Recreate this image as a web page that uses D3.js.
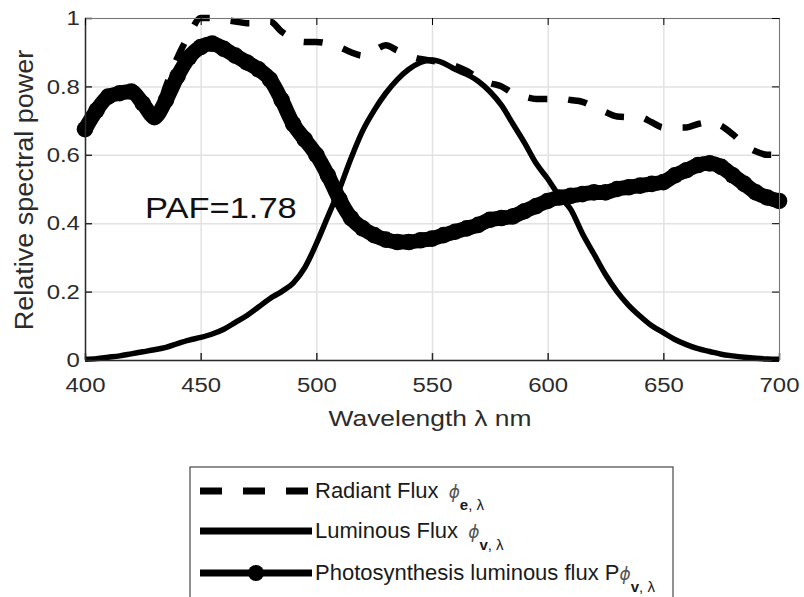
<!DOCTYPE html>
<html>
<head>
<meta charset="utf-8">
<script src="https://cdn.jsdelivr.net/npm/d3@7/dist/d3.min.js"></script>
<style>
body { margin: 0; background: #fff; }
text { font-family: "Liberation Sans", Arial, sans-serif; }
</style>
</head>
<body>
<div id="chart"></div>
<script>
// Spectral power chart: radiant, luminous and photosynthesis luminous flux

// Part I.

var wavelengths = [400, 405, 410, 415, 420, 425, 430, 435, 440, 445,
    450, 455, 460, 465, 470, 475, 480, 485, 490, 495,
    500, 505, 510, 515, 520, 525, 530, 535, 540, 545,
    550, 555, 560, 565, 570, 575, 580, 585, 590, 595,
    600, 605, 610, 615, 620, 625, 630, 635, 640, 645,
    650, 655, 660, 665, 670, 675, 680, 685, 690, 695, 700];

var radiantFlux = [0.675, 0.73, 0.77, 0.78, 0.785, 0.75, 0.71, 0.80, 0.885, 0.95,
    1.0, 1.0, 0.995, 0.99, 0.985, 0.985, 0.99, 0.96, 0.94, 0.93,
    0.93, 0.925, 0.915, 0.90, 0.89, 0.905, 0.92, 0.905, 0.89, 0.88,
    0.875, 0.87, 0.86, 0.845, 0.825, 0.81, 0.80, 0.78, 0.77, 0.763,
    0.763, 0.765, 0.76, 0.755, 0.74, 0.725, 0.712, 0.71, 0.71, 0.695,
    0.68, 0.68, 0.68, 0.69, 0.695, 0.685, 0.66, 0.63, 0.61, 0.60, 0.60];

var luminousFlux = [0.002, 0.004, 0.008, 0.012, 0.018, 0.024, 0.03, 0.037, 0.048, 0.058,
    0.066, 0.076, 0.09, 0.11, 0.13, 0.155, 0.18, 0.2, 0.225, 0.27,
    0.34, 0.42, 0.5, 0.59, 0.67, 0.73, 0.78, 0.82, 0.85, 0.87,
    0.877, 0.868, 0.85, 0.835, 0.815, 0.785, 0.745, 0.69, 0.635, 0.575,
    0.53, 0.48, 0.44, 0.37, 0.31, 0.25, 0.2, 0.16, 0.128, 0.1,
    0.08, 0.06, 0.045, 0.033, 0.025, 0.017, 0.012, 0.008, 0.005, 0.003, 0.002];

var photoFlux = [0.675, 0.73, 0.77, 0.78, 0.785, 0.75, 0.71, 0.76, 0.83, 0.885,
    0.915, 0.925, 0.91, 0.89, 0.87, 0.85, 0.82, 0.76, 0.69, 0.645,
    0.60, 0.54, 0.47, 0.415, 0.385, 0.365, 0.352, 0.345, 0.345, 0.35,
    0.355, 0.365, 0.375, 0.385, 0.395, 0.41, 0.415, 0.42, 0.435, 0.45,
    0.465, 0.475, 0.48, 0.485, 0.49, 0.49, 0.50, 0.505, 0.51, 0.515,
    0.52, 0.54, 0.555, 0.57, 0.575, 0.565, 0.54, 0.515, 0.49, 0.475, 0.465];

var xTicks = [400, 450, 500, 550, 600, 650, 700];
var yTicks = [0, 0.2, 0.4, 0.6, 0.8, 1];

var legendLabels = [
    {text: "Radiant Flux ", sub: "e", style: "dash"},
    {text: "Luminous Flux ", sub: "v", style: "solid"},
    {text: "Photosynthesis luminous flux P", sub: "v", style: "marker"}
];

// Part II. Set up the svg

var margin = {top: 18, bottom: 237, left: 85, right: 25};
var svgWidth = 804;
var svgHeight = 597;
var width = svgWidth - margin.left - margin.right;
var height = svgHeight - margin.top - margin.bottom;
var ink = "#2b2b2b";

var svg = d3.select("#chart")
    .append("svg")
    .attr("width", svgWidth)
    .attr("height", svgHeight);

var chartGroup = svg.append("g")
    .attr("transform", "translate(" + margin.left + "," + margin.top + ")");

var xScale = d3.scaleLinear().domain([400, 700]).range([0, width]);
var yScale = d3.scaleLinear().domain([0, 1]).range([height, 0]);

// grid lines
chartGroup.append("g")
    .attr("class", "xgrid")
    .attr("transform", "translate(0," + height + ")")
    .call(d3.axisBottom(xScale).tickValues(xTicks).tickSize(-height).tickFormat(""))
    .call(g => g.select(".domain").remove())
    .selectAll("line").attr("stroke", "#e2e2e2").attr("stroke-width", 1.5);

chartGroup.append("g")
    .attr("class", "ygrid")
    .call(d3.axisLeft(yScale).tickValues(yTicks).tickSize(-width).tickFormat(""))
    .call(g => g.select(".domain").remove())
    .selectAll("line").attr("stroke", "#e2e2e2").attr("stroke-width", 1.5);

// Part III. Curves

var data = wavelengths.map((w, i) => ({w: w, r: radiantFlux[i], l: luminousFlux[i], p: photoFlux[i]}));

function lineFor(key) {
    return d3.line()
        .x(d => xScale(d.w))
        .y(d => yScale(d[key]))
        .curve(d3.curveMonotoneX);
}

chartGroup.append("path")
    .datum(data)
    .attr("d", lineFor("r"))
    .attr("fill", "none")
    .attr("stroke", "#000")
    .attr("stroke-width", 6.5)
    .attr("stroke-dasharray", "19,21");

chartGroup.append("path")
    .datum(data)
    .attr("d", lineFor("l"))
    .attr("fill", "none")
    .attr("stroke", "#000")
    .attr("stroke-width", 5.5)
    .attr("stroke-linejoin", "round");

chartGroup.append("path")
    .datum(data)
    .attr("d", lineFor("p"))
    .attr("fill", "none")
    .attr("stroke", "#000")
    .attr("stroke-width", 15)
    .attr("stroke-linejoin", "round");

chartGroup.selectAll(".pmark")
    .data(data)
    .enter()
    .append("circle")
    .attr("class", "pmark")
    .attr("cx", d => xScale(d.w))
    .attr("cy", d => yScale(d.p))
    .attr("r", 8.3)
    .attr("fill", "#000");

// Part IV. Axes (ticks point inwards)

var xAxis = chartGroup.append("g")
    .attr("transform", "translate(0," + height + ")")
    .call(d3.axisBottom(xScale).tickValues(xTicks).tickSize(-7).tickSizeOuter(0).tickPadding(17));
xAxis.selectAll("text")
    .attr("fill", ink)
    .attr("font-size", "21px")
    .attr("font-family", "Liberation Sans, Arial, sans-serif")
    .attr("transform", "scale(1.14,1)");

var yAxis = chartGroup.append("g")
    .call(d3.axisLeft(yScale).tickValues(yTicks).tickSize(-7).tickSizeOuter(0).tickPadding(4.5)
        .tickFormat(d => String(+d.toFixed(1))));
yAxis.selectAll("text")
    .attr("fill", ink)
    .attr("font-size", "21px")
    .attr("font-family", "Liberation Sans, Arial, sans-serif")
    .attr("transform", "scale(1.14,1)");

chartGroup.append("g")
    .call(d3.axisTop(xScale).tickValues(xTicks).tickSize(-7).tickSizeOuter(0).tickFormat(""))
    .call(g => g.select(".domain").attr("stroke", "#777"));

chartGroup.append("g")
    .attr("transform", "translate(" + width + ",0)")
    .call(d3.axisRight(yScale).tickValues(yTicks).tickSize(-7).tickSizeOuter(0).tickFormat(""))
    .call(g => g.select(".domain").attr("stroke", "#777"));

[xAxis, yAxis].forEach(a => a.selectAll("line, path").attr("stroke", ink).attr("stroke-width", 1.5));

// axis labels
svg.append("text")
    .attr("transform", "translate(430,426) scale(1.2,1)")
    .attr("text-anchor", "middle")
    .attr("font-size", "22px")
    .attr("fill", ink)
    .text("Wavelength \u03bb nm");

svg.append("text")
    .attr("transform", "translate(33,190) rotate(-90) scale(1.08,1)")
    .attr("text-anchor", "middle")
    .attr("font-size", "25px")
    .attr("fill", ink)
    .text("Relative spectral power");

svg.append("text")
    .attr("transform", "translate(145,218) scale(1.19,1)")
    .attr("font-size", "29px")
    .attr("fill", "#111")
    .text("PAF=1.78");

// Part V. Legend

var legend = svg.append("g").attr("class", "legend");

legend.append("rect")
    .attr("x", 190)
    .attr("y", 467)
    .attr("width", 483)
    .attr("height", 200)
    .attr("fill", "#fff")
    .attr("stroke", "#555")
    .attr("stroke-width", 1.3);

var rowBase = [498, 538, 580];

legendLabels.forEach((item, i) => {
    var ly = rowBase[i] - 7;
    var seg = legend.append("line")
        .attr("x1", 200)
        .attr("x2", 312)
        .attr("y1", ly)
        .attr("y2", ly)
        .attr("stroke", "#000")
        .attr("stroke-width", 7);
    if (item.style === "dash") seg.attr("stroke-dasharray", "22,21");
    if (item.style === "marker") {
        legend.append("circle")
            .attr("cx", 256)
            .attr("cy", ly)
            .attr("r", 8)
            .attr("fill", "#000");
    }

    var t = legend.append("text")
        .attr("x", 315)
        .attr("y", rowBase[i])
        .attr("font-size", "22px")
        .attr("fill", "#1a1a1a");
    t.append("tspan").text(item.text);
    t.append("tspan")
        .attr("font-family", "DejaVu Sans, sans-serif")
        .attr("font-style", "italic")
        .attr("font-size", "17px")
        .attr("fill", "#555")
        .attr("dx", item.style === "marker" ? 0 : 4)
        .text("\u03d5");
    t.append("tspan")
        .attr("dy", 12)
        .attr("font-size", "15px")
        .attr("font-weight", "bold")
        .text(item.sub);
    t.append("tspan")
        .attr("font-size", "15px")
        .text(", \u03bb");
});
</script>
</body>
</html>
